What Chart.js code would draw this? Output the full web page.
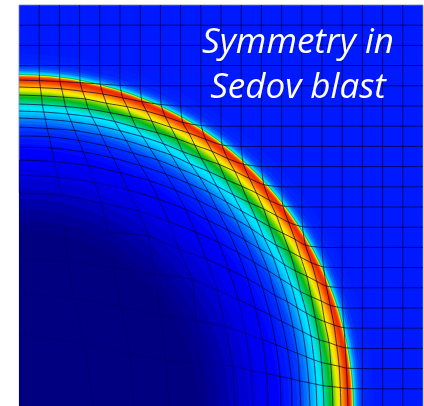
<!DOCTYPE html>
<html>
<head>
<meta charset="utf-8">
<style>html,body{margin:0;padding:0;background:#fff}canvas{display:block;filter:blur(.45px)}</style>
<script src="https://cdn.jsdelivr.net/npm/chart.js@4/dist/chart.umd.min.js"></script>
</head>
<body>
<canvas id="c" width="424" height="406"></canvas>
<script>
// Radial field profile, outermost first: distance from the blast centre and field level (0..1)
const fieldRadius = [600,365,355,350,345,342,340,338,337,336,335,334,333,332,331,330,329,328,327,326,325,324,323,322,321,320,319,318,317,316,315,314,313,312,311,310,309,308,307,306,305,304,303,302,300,298,296,294,292,290,288,285,282,278,274,270,265,260,255,250,240,230,220,210,200,190,180];
const fieldValue  = [.15,.15,.155,.16,.175,.2,.235,.29,.33,.38,.47,.64,.78,.84,.87,.87,.86,.84,.82,.79,.76,.73,.70,.67,.65,.63,.615,.60,.575,.555,.54,.525,.51,.50,.49,.475,.465,.455,.44,.425,.41,.40,.385,.375,.365,.345,.32,.295,.27,.25,.23,.2,.18,.165,.155,.145,.135,.125,.115,.11,.095,.08,.06,.04,.025,.01,0];
// Colour scale of the field
const scaleLevels = [0,.125,.25,.375,.45,.5,.56,.625,.75,.875,1];
const scaleColors = [[0,0,128],[0,0,255],[0,128,255],[0,230,255],[0,208,128],[0,184,32],[128,216,0],[248,240,0],[255,144,0],[240,40,0],[128,0,0]];

// Distance from the centre of the displaced mesh nodes; row = larger index - 1, column = smaller index.
// Nodes not listed have not been reached by the shock and stay on the regular grid.
const meshRadius = [
 [75,92],
 [115,124,144],
 [150,155,170,191],
 [183,187,198,216,226],
 [216,218,222,231,240,250],
 [234,235,239,245,252,260,267],
 [249,250,253,257,263,269,275,281],
 [262,263,265,268,272,277,282,288,293],
 [273,274,275,277,280,285,289,294,298,303],
 [282,282,284,286,289,292,296,299,304,309,315],
 [291,291,292,294,296,299,302,305,310,316,321,326],
 [298,298,299,301,303,305,309,313,317,322,326,332,343],
 [305,305,306,308,310,313,317,320,324,328,333],
 [314,314,315,317,318,321,324,327,330,337],
 [322,322,323,324,326,328,331,336],
 [329,329,330,332,335,339]
];
const meshCells = [0,1,2,3,4,5,6,7,8,9,10,11,12,13,14,15,16,17,18,19,20];
const meshSpacing = 20.2;
const titleLines = ["Symmetry in", "Sedov blast"];

function colorOf(v){
  let k=0;
  while(k<scaleLevels.length-2 && v>scaleLevels[k+1]) k++;
  const t=(v-scaleLevels[k])/(scaleLevels[k+1]-scaleLevels[k]);
  const a=scaleColors[k],b=scaleColors[k+1];
  return `rgb(${a.map((c,n)=>Math.round(c+(b[n]-c)*t)).join(',')})`;
}
function meshNode(i,j){
  const d = Math.hypot(i,j);
  if(d===0) return {x:0,y:0};
  const row = meshRadius[Math.max(i,j)-1];
  const v = row ? row[Math.min(i,j)] : undefined;
  const r = v===undefined ? d*meshSpacing : v;
  return {x:r*i/d, y:r*j/d};
}
const faintInside = {borderColor:ctx=>{
  const p=ctx.p0.parsed;
  const r=Math.hypot(p.x,p.y);
  return r<190 ? 'rgba(0,0,40,.15)' : r<240 ? 'rgba(0,0,40,.38)' : undefined;
}};
const lineStyle = {type:'scatter',showLine:true,pointRadius:0,tension:.25,borderWidth:1,order:0,clip:1,segment:faintInside};
const meshSets = [];
meshCells.forEach(a=>{
  const edge = a===0 || a===20;
  const color = edge ? 'rgba(120,130,190,.8)' : 'rgba(0,0,50,.7)';
  meshSets.push({...lineStyle,borderColor:color,data:meshCells.map(b=>meshNode(a,b))});
  meshSets.push({...lineStyle,borderColor:color,data:meshCells.map(b=>meshNode(b,a))});
});
const fieldSet = {
  type:'scatter',order:5,clip:0,showLine:false,
  data:fieldRadius.map(()=>({x:0,y:0})),
  pointStyle:'circle',pointBorderWidth:0,
  pointBackgroundColor:ctx=>colorOf(fieldValue[ctx.dataIndex]),
  pointRadius:ctx=>{const s=ctx.chart.scales.x;return s.getPixelForValue(fieldRadius[ctx.dataIndex])-s.getPixelForValue(0);}
};
const titlePlugin = {
  id:'caption',
  afterDraw(chart){
    const g=chart.ctx;g.save();
    g.fillStyle='#fff';g.font='italic 35px "Open Sans"';g.textAlign='center';g.textBaseline='alphabetic';
    g.fillText(titleLines[0],298,53);
    g.fillText(titleLines[1],298,98);
    g.restore();
  }
};
new Chart(document.getElementById('c'),{
  type:'scatter',
  data:{datasets:[...meshSets,fieldSet]},
  plugins:[titlePlugin],
  options:{
    responsive:false,animation:false,events:[],
    layout:{padding:{left:19,right:1,top:5,bottom:0}},
    plugins:{legend:{display:false},tooltip:{enabled:false}},
    scales:{
      x:{type:'linear',display:false,min:0,max:404},
      y:{type:'linear',display:false,min:3,max:404}
    }
  }
});
</script>
</body>
</html>
